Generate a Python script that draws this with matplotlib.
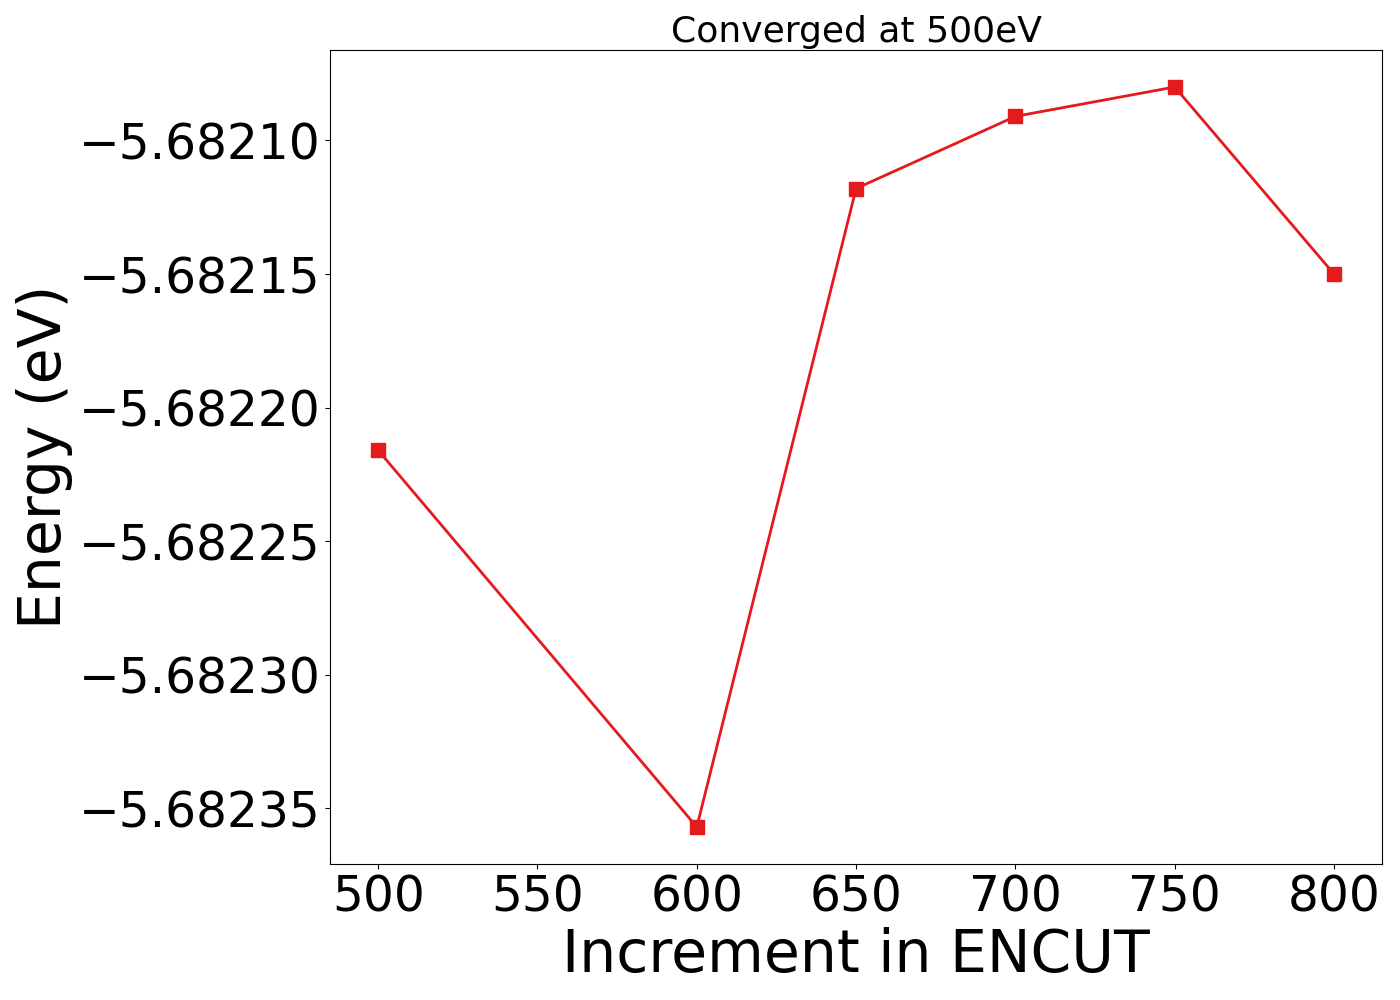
import matplotlib
matplotlib.use("Agg")
import matplotlib.pyplot as plt
from matplotlib.ticker import FuncFormatter

encut = [500, 600, 650, 700, 750, 800]
energy = [-5.682216, -5.682357, -5.682118, -5.682091, -5.682080, -5.682150]

fig, ax = plt.subplots(figsize=(14, 10), dpi=100)
ax.plot(encut, energy, color='#e41a1c', marker='s', markersize=10, linewidth=2)
ax.set_title("Converged at 500eV", fontsize=26)
ax.set_xlabel("Increment in ENCUT", fontsize=42)
ax.set_ylabel("Energy (eV)", fontsize=42)
ax.tick_params(labelsize=35)
ax.set_xticks([500, 550, 600, 650, 700, 750, 800])
ax.set_yticks([-5.68235, -5.68230, -5.68225, -5.68220, -5.68215, -5.68210])
ax.yaxis.set_major_formatter(FuncFormatter(lambda v, p: ('%.5f' % v).replace('-', '\u2212')))
fig.subplots_adjust(left=0.236, right=0.987, top=0.95, bottom=0.136)
fig.savefig("out.png")
